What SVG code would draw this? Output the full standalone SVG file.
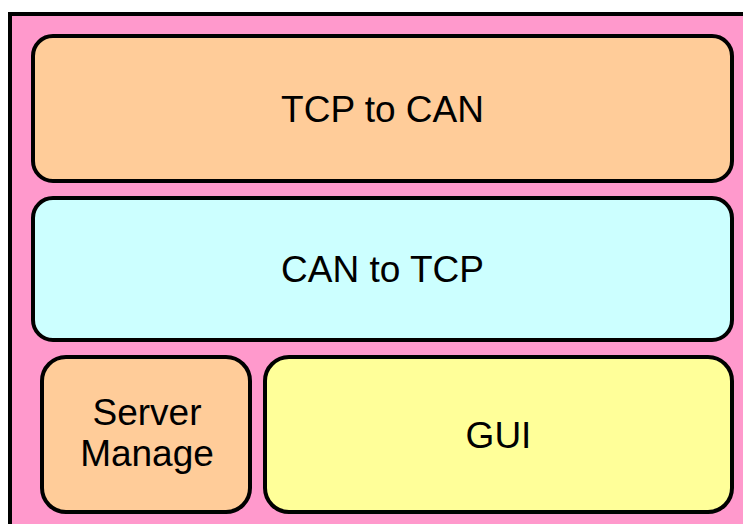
<svg xmlns="http://www.w3.org/2000/svg" width="743" height="524" viewBox="0 0 743 524">
  <style>
    .box { stroke: #000; stroke-width: 4; }
    .frame { fill: #FF99CC; stroke: #000; stroke-width: 4; }
    .orange { fill: #FFCC99; }
    .cyan { fill: #CCFFFF; }
    .yellow { fill: #FFFF99; }
    .label { font-family: "Liberation Sans", Arial, sans-serif; font-size: 37px; fill: #000; text-anchor: middle; }
  </style>
  <rect width="743" height="524" fill="#FFFFFF"/>
  <!-- outer container, running past the right and bottom edges -->
  <rect class="frame" x="10" y="14" width="760" height="540"/>
  <g id="tcp-to-can">
    <rect class="box orange" x="33" y="36" width="699" height="145" rx="20" ry="20"/>
    <text class="label" x="382.5" y="122">TCP to CAN</text>
  </g>
  <g id="can-to-tcp">
    <rect class="box cyan" x="33" y="198" width="699" height="142" rx="20" ry="20"/>
    <text class="label" x="382.5" y="282">CAN to TCP</text>
  </g>
  <g id="server-manage">
    <rect class="box orange" x="42" y="357" width="208" height="155" rx="24" ry="24"/>
    <text class="label" x="147" y="425">Server</text>
    <text class="label" x="147" y="466">Manage</text>
  </g>
  <g id="gui">
    <rect class="box yellow" x="265" y="357" width="467" height="155" rx="24" ry="24"/>
    <text class="label" x="498.5" y="448">GUI</text>
  </g>
  <g id="connectors"/>
</svg>
